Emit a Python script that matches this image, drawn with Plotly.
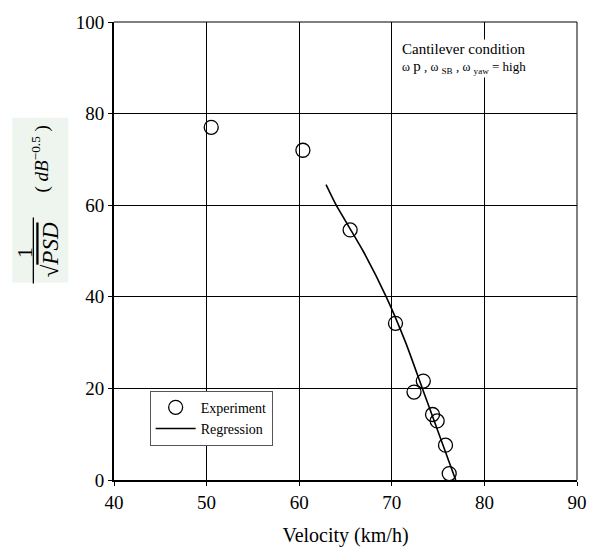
import plotly.graph_objects as go

exp_v = [50.5, 60.4, 65.5, 70.4, 73.4, 72.4, 74.4, 74.9, 75.8, 76.2]
exp_y = [77.0, 72.0, 54.6, 34.2, 21.6, 19.2, 14.3, 12.9, 7.6, 1.4]

reg_v = [62.9, 64.0, 66.9, 69.4, 71.5, 73.3, 75.1, 76.9]
reg_y = [64.5, 60.0, 50.0, 40.0, 30.0, 20.0, 10.0, 0.0]

xticks = [40, 50, 60, 70, 80, 90]
yticks = [0, 20, 40, 60, 80, 100]

FONT = "Liberation Serif"

fig = go.Figure()
fig.add_trace(go.Scatter(
    x=exp_v, y=exp_y, mode="markers", name="Experiment",
    marker=dict(symbol="circle-open", size=14, color="black", line=dict(width=1.3, color="black")),
))
fig.add_trace(go.Scatter(
    x=reg_v, y=reg_y, mode="lines", name="Regression",
    line=dict(color="black", width=1.6, shape="spline", smoothing=0.6),
))

fig.update_layout(
    width=599, height=556,
    margin=dict(l=114, r=20, t=16, b=76),
    paper_bgcolor="white", plot_bgcolor="white",
    font=dict(family=FONT, size=16, color="black"),
    showlegend=True,
    legend=dict(
        x=0.077, y=0.195, xanchor="left", yanchor="top",
        bgcolor="white", bordercolor="#555555", borderwidth=1,
        font=dict(family=FONT, size=14),
        tracegroupgap=0, itemwidth=40,
    ),
    xaxis=dict(
        range=[40, 90], tickvals=xticks, ticktext=[str(v) for v in xticks],
        showgrid=True, gridcolor="black", gridwidth=1,
        showline=True, linecolor="black", linewidth=2, mirror=False,
        ticks="outside", ticklen=4, tickcolor="black",
        zeroline=False,
        title=dict(text="Velocity (km/h)", font=dict(family=FONT, size=20), standoff=16),
        tickfont=dict(family=FONT, size=19),
    ),
    yaxis=dict(
        range=[0, 100], tickvals=yticks, ticktext=[str(v) for v in yticks],
        showgrid=True, gridcolor="black", gridwidth=1,
        showline=True, linecolor="black", linewidth=2, mirror=False,
        ticks="outside", ticklen=4, tickcolor="black",
        zeroline=False,
        tickfont=dict(family=FONT, size=19),
    ),
)

# top and right thin frame
fig.add_shape(type="line", xref="paper", yref="paper", x0=0, x1=1, y0=1, y1=1,
              line=dict(color="black", width=1))
fig.add_shape(type="line", xref="paper", yref="paper", x0=1, x1=1, y0=0, y1=1,
              line=dict(color="black", width=1))

def px_x(p):
    return (p - 114) / 465

def px_y(p):
    return (480 - p) / 464

# y-axis label background (pixels: x 12-68, y 113-280)
fig.add_shape(type="rect", xref="paper", yref="paper",
              x0=px_x(12), x1=px_x(68), y0=px_y(280), y1=px_y(113),
              fillcolor="#eef4ee", line=dict(width=0), layer="below")
# fraction bar
fig.add_shape(type="line", xref="paper", yref="paper",
              x0=px_x(33), x1=px_x(33), y0=px_y(281), y1=px_y(214),
              line=dict(color="black", width=1.3))

fig.add_annotation(
    xref="paper", yref="paper", x=px_x(25), y=px_y(250),
    xanchor="center", yanchor="middle",
    text="1", textangle=-90, showarrow=False,
    font=dict(family=FONT, size=22, color="black"),
)
fig.add_annotation(
    xref="paper", yref="paper", x=px_x(50), y=px_y(247),
    xanchor="center", yanchor="middle",
    text="√<span style='text-decoration:overline'><i>PSD</i></span>",
    textangle=-90, showarrow=False,
    font=dict(family=FONT, size=23, color="black"),
)
fig.add_annotation(
    xref="paper", yref="paper", x=px_x(40), y=px_y(155),
    xanchor="center", yanchor="middle",
    text="( <i>dB</i><sup>−0.5</sup> )",
    textangle=-90, showarrow=False,
    font=dict(family=FONT, size=19, color="black"),
)

# condition annotation
fig.add_annotation(
    xref="paper", yref="paper", x=px_x(401), y=px_y(33), xanchor="left", yanchor="top",
    text="<span style='font-size:15px'>Cantilever condition</span><br>"
         "<span style='font-size:12px'>ω</span> <span style='font-size:15px'>p</span> , "
         "<span style='font-size:12px'>ω</span> <sub>SB</sub> , "
         "<span style='font-size:12px'>ω</span> <sub>yaw</sub> = high",
    showarrow=False, align="left", bgcolor="white",
    font=dict(family=FONT, size=13, color="black"),
)

fig.write_html("out.html")
